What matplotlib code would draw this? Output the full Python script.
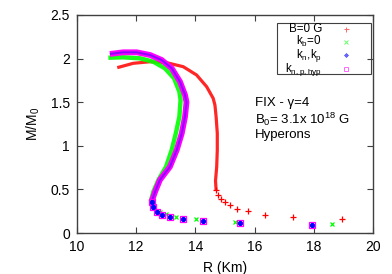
import matplotlib
matplotlib.use('Agg')
import matplotlib.pyplot as plt
from matplotlib.patches import Rectangle

plt.rcParams['font.family'] = ['Liberation Sans', 'DejaVu Sans']
plt.rcParams['mathtext.fontset'] = 'custom'
plt.rcParams['mathtext.rm'] = 'Liberation Sans'
plt.rcParams['mathtext.it'] = 'Liberation Sans'

# B = 0 G  (dense branch first, then the sparse low-mass tail)
red_R = [11.36, 11.90, 12.47, 13.03, 13.59, 14.04, 14.38, 14.60, 14.66, 14.70, 14.74,
         14.74, 14.72, 14.68, 14.70, 14.77, 14.85, 15.0, 15.17, 15.39, 15.79, 16.35,
         17.29, 18.96]
red_M = [1.896, 1.946, 1.964, 1.953, 1.907, 1.812, 1.678, 1.545, 1.468, 1.334, 1.143,
         0.952, 0.760, 0.60, 0.49, 0.44, 0.39, 0.36, 0.32, 0.28, 0.25, 0.21,
         0.18, 0.16]
red_ndense = 15

# k_b = 0
green_R = [11.06, 11.56, 12.13, 12.58, 12.97, 13.28, 13.46, 13.50, 13.46, 13.34, 13.20,
           13.01, 12.75, 12.58, 12.49, 12.58, 12.80, 13.01, 13.34, 14.02, 15.34, 18.6]
green_M = [2.010, 2.015, 2.003, 1.964, 1.889, 1.774, 1.620, 1.525, 1.334, 1.143, 0.952,
           0.760, 0.608, 0.474, 0.359, 0.283, 0.245, 0.214, 0.183, 0.157, 0.13, 0.10]
green_ndense = 15

# k_n, k_p
blue_R = [11.11, 11.56, 12.02, 12.47, 12.86, 13.20, 13.48, 13.65, 13.70, 13.65, 13.54,
          13.37, 13.14, 12.80, 12.64, 12.52, 12.56, 12.69, 12.86, 13.14, 13.57, 14.27,
          15.5, 17.93]
blue_M = [2.053, 2.072, 2.072, 2.041, 1.984, 1.889, 1.735, 1.583, 1.50, 1.334, 1.143,
          0.952, 0.760, 0.608, 0.474, 0.359, 0.302, 0.245, 0.206, 0.180, 0.161, 0.138,
          0.118, 0.095]
blue_ndense = 16

# k_n,p,hyp
mag_R = [11.11, 11.56, 12.02, 12.47, 12.86, 13.20, 13.48, 13.65, 13.70, 13.65, 13.54,
         13.37, 13.14, 12.80, 12.64, 12.52, 12.56, 12.69, 12.86, 13.14, 13.57, 14.27,
         15.5, 17.93]
mag_M = [2.053, 2.072, 2.072, 2.041, 1.984, 1.889, 1.735, 1.583, 1.50, 1.334, 1.143,
         0.952, 0.760, 0.608, 0.474, 0.359, 0.302, 0.245, 0.206, 0.180, 0.161, 0.138,
         0.118, 0.095]
mag_ndense = 16

labels = ['B=0 G', r'k$_b$=0', r'k$_n$,k$_p$', r'k$_{n,p,hyp}$']

fig = plt.figure(figsize=(3.92, 2.74), dpi=100)
ax = fig.add_axes([0.1964, 0.1496, 0.7551, 0.7957])

# (R, M, n dense, colour, marker, marker size, band width, band alpha)
series = [
    (red_R, red_M, red_ndense, '#ff0000', '+', 4.5, 2.3, 0.85),
    (green_R, green_M, green_ndense, '#00ff00', 'x', 3.5, 3.2, 0.9),
    (mag_R, mag_M, mag_ndense, '#ff00ff', 's', 4.0, 4.2, 1.0),
    (blue_R, blue_M, blue_ndense, '#0000ff', (8, 2, 0), 3.5, 1.4, 0.45),
]
for R, M, nd, c, mk, ms, lw, al in series:
    ax.plot(R[:nd], M[:nd], color=c, lw=lw, alpha=al, solid_capstyle='butt',
            solid_joinstyle='round', zorder=2)
    ax.plot(R[nd - 1:], M[nd - 1:], linestyle='none', marker=mk, ms=ms, color=c,
            mfc='none' if mk == 's' else c, mew=0.9, zorder=3)

ax.set_xlim(10, 20)
ax.set_ylim(0, 2.5)
ax.set_xticks([10, 12, 14, 16, 18, 20])
ax.set_yticks([0, 0.5, 1, 1.5, 2, 2.5])
ax.set_yticklabels(['0', '0.5', '1', '1.5', '2', '2.5'])
ax.tick_params(direction='in', length=4, width=0.8, top=True, right=True,
               labelsize=10, colors='#404040', labelcolor='black', pad=5)
for s in ax.spines.values():
    s.set_color('#404040')
    s.set_linewidth(1.0)
ax.set_xlabel('R (Km)', fontsize=10, labelpad=5)
ax.set_ylabel(r'M/M$_0$', fontsize=10, labelpad=6)

ax.text(16.0, 1.49, u'FIX - \u03b3=4', fontsize=9.5, va='center')
ax.text(16.0, 1.30, r'B$_0$= 3.1x 10$^{18}$ G', fontsize=9.5, va='center')
ax.text(16.0, 1.12, 'Hyperons', fontsize=9.5, va='center')

# gnuplot-style key: right-aligned labels, sample point to the right
ax.add_patch(Rectangle((0.676, 0.728), 0.317, 0.235, transform=ax.transAxes,
                       fill=False, ec='#404040', lw=0.8, zorder=4))
key_y = [0.938, 0.878, 0.816, 0.752]
for (R, M, nd, c, mk, ms, lw, al), lab, y in zip(series[:2] + [series[3], series[2]],
                                                  labels, key_y):
    ax.text(0.828, y, lab, transform=ax.transAxes, ha='right', va='center',
            fontsize=8.4, zorder=5)
    ax.plot([0.908], [y], transform=ax.transAxes, linestyle='none', marker=mk,
            ms=ms * 0.8, color=c, mfc='none' if mk == 's' else c, mew=0.7,
            alpha=0.6, zorder=5, clip_on=False)

fig.savefig('out.png', dpi=100)
